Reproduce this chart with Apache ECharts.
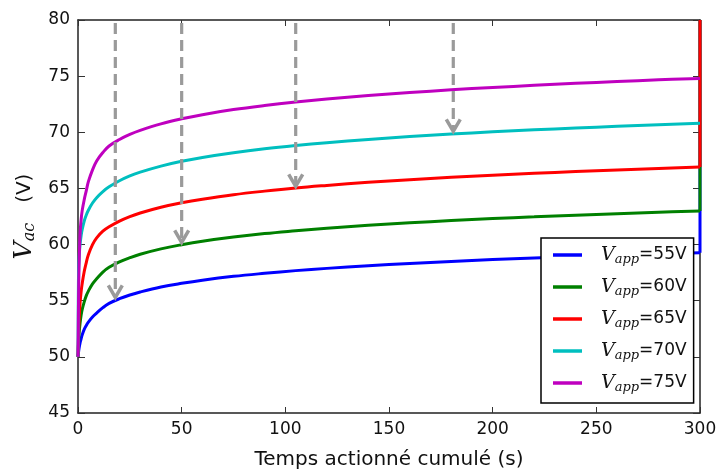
<!DOCTYPE html>
<html>
<head>
<meta charset="utf-8">
<script src="https://cdn.jsdelivr.net/npm/echarts@6/dist/echarts.min.js"></script>
<style>
html,body{margin:0;padding:0;background:#fff;}
#chart{width:719px;height:469px;}
</style>
</head>
<body>
<div id="chart"></div>
<script>
// ---- data ----
const times = [0,0.25,0.5,1,1.5,2,3,4,5,7,9,12,15,20,25,30,40,50,60,75,90,105,120,140,160,180,200,220,240,260,280,300];
const v55 = [50.0,50.4,50.75,51.25,51.6,51.95,52.45,52.8,53.1,53.55,53.9,54.38,54.76,55.18,55.51,55.78,56.22,56.55,56.83,57.17,57.44,57.68,57.88,58.11,58.32,58.50,58.66,58.80,58.94,59.06,59.17,59.28];
const v60 = [50.0,51.2,52.0,53.0,53.7,54.2,54.9,55.45,55.85,56.5,56.95,57.55,57.98,58.46,58.83,59.14,59.62,59.99,60.30,60.67,60.98,61.23,61.46,61.72,61.94,62.14,62.32,62.47,62.62,62.75,62.88,63.00];
const v65 = [50.0,51.8,53.2,54.8,55.8,56.5,57.6,58.4,59.1,60.0,60.6,61.19,61.58,62.09,62.49,62.81,63.32,63.72,64.04,64.44,64.76,65.04,65.27,65.55,65.78,65.99,66.18,66.35,66.50,66.64,66.78,66.90];
const v70 = [50.0,57.44,58.73,60.03,60.79,61.33,62.10,62.64,63.06,63.70,64.18,64.72,65.14,65.68,66.11,66.45,66.99,67.42,67.76,68.18,68.53,68.82,69.07,69.36,69.62,69.84,70.04,70.22,70.38,70.53,70.67,70.80];
const v75 = [50.0,55.0,58.0,61.0,62.2,63.0,64.0,64.8,65.6,66.65,67.45,68.2,68.78,69.36,69.81,70.17,70.75,71.20,71.57,72.02,72.38,72.69,72.96,73.27,73.54,73.78,73.99,74.18,74.36,74.52,74.67,74.80];
const seriesNames = ['Vapp=55V','Vapp=60V','Vapp=65V','Vapp=70V','Vapp=75V'];
const legendValues = ['55','60','65','70','75'];
// final vertical jump at t = 300 seen at the right edge (null = none)
const endJump = [80, 80, 80, null, null];
// dashed arrows: x position, start value, tip value
const arrowX = [18, 50, 105, 181];
const arrowStart = [80, 80, 80, 80];
const arrowTip = [55.2, 60.1, 65.1, 70.0];

const colors = ['#0000ff', '#008000', '#ff0000', '#00bfbf', '#bf00bf'];
const allValues = [v55, v60, v65, v70, v75];

const lineSeries = [];
allValues.forEach((vals, k) => {
  const pts = times.map((t, i) => [t, vals[i]]);
  lineSeries.push({
    name: seriesNames[k],
    type: 'line',
    data: pts,
    showSymbol: false,
    symbol: 'none',
    smooth: 0.4,
    lineStyle: { color: colors[k], width: 3 },
    itemStyle: { color: colors[k] },
    z: 3 + k,
    animation: false
  });
  if (endJump[k] !== null) {
    const last = times.length - 1;
    lineSeries.push({
      type: 'line',
      data: [[times[last], vals[last]], [times[last], endJump[k]]],
      showSymbol: false,
      symbol: 'none',
      lineStyle: { color: colors[k], width: 3 },
      itemStyle: { color: colors[k] },
      z: 3 + k,
      silent: true,
      animation: false
    });
  }
});

const arrowData = arrowX.map((x, i) => [x, arrowStart[i], arrowTip[i]]);
const arrowSeries = {
  type: 'custom',
  data: arrowData,
  z: 20,
  silent: true,
  animation: false,
  encode: { x: 0, y: [1, 2] },
  renderItem: function (params, api) {
    const x = api.value(0);
    const p0 = api.coord([x, api.value(1)]);
    const p1 = api.coord([x, api.value(2)]);
    const c = '#9a9a9a';
    return {
      type: 'group',
      children: [
        { type: 'line', shape: { x1: p0[0], y1: p0[1] + 3, x2: p1[0], y2: p1[1] - 2 },
          style: { stroke: c, lineWidth: 3.2, lineDash: [11, 6] } },
        { type: 'polyline', shape: { points: [[p1[0] - 7, p1[1] - 13], [p1[0], p1[1] - 1], [p1[0] + 7, p1[1] - 13]] },
          style: { stroke: c, lineWidth: 3.5, fill: null, lineJoin: 'miter' } }
      ]
    };
  }
};

const baseFont = 'DejaVu Sans';
const mathFont = 'DejaVu Serif';

function xAxisDef(pos, showLabel) {
  return {
    type: 'value', position: pos, min: 0, max: 300, interval: 50,
    axisLine: { show: true, onZero: false, lineStyle: { color: '#222', width: 1.5 } },
    axisTick: { show: true, inside: true, length: 6, lineStyle: { color: '#333', width: 1 } },
    axisLabel: { show: showLabel, fontFamily: baseFont, fontSize: 17, color: '#111', margin: 8 },
    splitLine: { show: false }
  };
}
function yAxisDef(pos, showLabel) {
  return {
    type: 'value', position: pos, min: 45, max: 80, interval: 5,
    axisLine: { show: true, onZero: false, lineStyle: { color: '#222', width: 1.5 } },
    axisTick: { show: true, inside: true, length: 7, lineStyle: { color: '#333', width: 1 } },
    axisLabel: { show: showLabel, fontFamily: baseFont, fontSize: 17, color: '#111', margin: 8 },
    splitLine: { show: false }
  };
}

const xMain = xAxisDef('bottom', true);
xMain.name = 'Temps actionné cumulé (s)';
xMain.nameLocation = 'middle';
xMain.nameGap = 37;
xMain.nameTextStyle = { fontFamily: baseFont, fontSize: 20, color: '#111' };

const yMain = yAxisDef('left', true);
yMain.name = '{v|V}{s|ac}{n|(V)}';
yMain.nameLocation = 'middle';
yMain.nameGap = 37;
yMain.nameTextStyle = {
  color: '#111',
  rich: {
    v: { fontFamily: mathFont, fontStyle: 'italic', fontSize: 25, color: '#111' },
    s: { fontFamily: mathFont, fontStyle: 'italic', fontSize: 16, color: '#111', padding: [9, 0, 0, 0] },
    n: { fontFamily: baseFont, fontSize: 20, color: '#111', padding: [0, 0, 0, 20] }
  }
};

const option = {
  animation: false,
  backgroundColor: '#fff',
  grid: { left: 78, right: 19, top: 20, bottom: 56, containLabel: false, outerBoundsMode: 'none' },
  xAxis: [xMain, xAxisDef('top', false)],
  yAxis: [yMain, yAxisDef('right', false)],
  legend: {
    data: seriesNames,
    orient: 'vertical',
    left: 541,
    top: 238,
    backgroundColor: '#fff',
    borderColor: '#000',
    borderWidth: 1.5,
    borderRadius: 0,
    padding: [6, 7, 9, 12],
    itemGap: 10,
    itemWidth: 29,
    itemHeight: 3.5,
    icon: 'rect',
    formatter: function (name) {
      const i = seriesNames.indexOf(name);
      return '{v|V}{s|app}{n|=' + legendValues[i] + 'V}';
    },
    textStyle: {
      color: '#111',
      rich: {
        v: { fontFamily: mathFont, fontStyle: 'italic', fontSize: 19, color: '#111', padding: [0, 0, 0, 14], lineHeight: 22 },
        s: { fontFamily: mathFont, fontStyle: 'italic', fontSize: 13, color: '#111', padding: [9, 0, 0, 0], lineHeight: 22 },
        n: { fontFamily: baseFont, fontSize: 17, color: '#111', lineHeight: 22 }
      }
    }
  },
  series: lineSeries.concat([arrowSeries])
};

const chart = echarts.init(document.getElementById('chart'), null, { renderer: 'canvas' });
chart.setOption(option);
</script>
</body>
</html>
